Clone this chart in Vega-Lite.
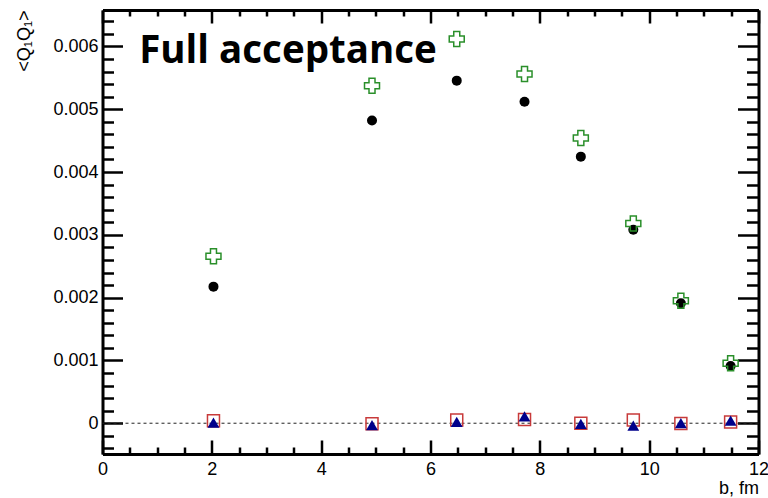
{
  "$schema": "https://vega.github.io/schema/vega-lite/v6.json",
  "width": 656,
  "height": 444,
  "autosize": {"type": "none"},
  "padding": {"left": 102.5, "top": 10, "right": 9.5, "bottom": 44},
  "background": "white",
  "config": {"view": {"stroke": null}, "axis": {"grid": false}},
  "datasets": {
    "zero": [{"value": 0}],
    "black": [
      {"b": 2.03, "value": 0.002175},
      {"b": 4.93, "value": 0.00482},
      {"b": 6.48, "value": 0.005455},
      {"b": 7.72, "value": 0.00512},
      {"b": 8.75, "value": 0.004245},
      {"b": 9.71, "value": 0.00308},
      {"b": 10.58, "value": 0.00191},
      {"b": 11.49, "value": 0.00091}
    ],
    "green": [
      {"b": 2.03, "value": 0.00266},
      {"b": 4.93, "value": 0.005375},
      {"b": 6.48, "value": 0.00612},
      {"b": 7.72, "value": 0.00556},
      {"b": 8.75, "value": 0.00454},
      {"b": 9.71, "value": 0.00318},
      {"b": 10.58, "value": 0.00195},
      {"b": 11.49, "value": 0.000955}
    ],
    "red": [
      {"b": 2.03, "value": 0.00004},
      {"b": 4.93, "value": -0.00001},
      {"b": 6.48, "value": 0.00005},
      {"b": 7.72, "value": 0.00006},
      {"b": 8.75, "value": 0.0},
      {"b": 9.71, "value": 0.00005},
      {"b": 10.58, "value": -0.000005},
      {"b": 11.49, "value": 0.00002}
    ],
    "blue": [
      {"b": 2.03, "value": 0.00001},
      {"b": 4.93, "value": -0.00003},
      {"b": 6.48, "value": 0.00002},
      {"b": 7.72, "value": 0.00011},
      {"b": 8.75, "value": -0.00001},
      {"b": 9.71, "value": -0.00004},
      {"b": 10.58, "value": 0.0},
      {"b": 11.49, "value": 0.00004}
    ]
  },
  "layer": [
    {
      "data": {"name": "zero"},
      "mark": {"type": "rule", "strokeDash": [3, 3], "strokeWidth": 1, "color": "#222222"},
      "encoding": {
        "y": {"field": "value", "type": "quantitative", "scale": {"domain": [-0.00049, 0.00658], "nice": false, "zero": false}, "axis": null}
      }
    },
    {
      "data": {"name": "black"},
      "mark": {"type": "point", "shape": "circle", "filled": true, "color": "black", "size": 100, "opacity": 1},
      "encoding": {
        "x": {
          "field": "b", "type": "quantitative",
          "scale": {"domain": [0, 12], "nice": false, "zero": false},
          "axis": {
            "orient": "bottom",
            "values": [0, 2, 4, 6, 8, 10, 12],
            "tickSize": -14,
            "tickWidth": 2.5,
            "tickColor": "black",
            "domainWidth": 3,
            "domainColor": "black",
            "labelPadding": 20,
            "labelFont": "Liberation Sans",
            "labelFontSize": 18,
            "labelColor": "black",
            "labelFlush": false,
            "labelOverlap": false,
            "format": "d",
            "title": "b, fm",
            "titleFont": "Liberation Sans",
            "titleFontSize": 18,
            "titleFontWeight": "normal",
            "titleColor": "black",
            "titleAnchor": "end",
            "titleAlign": "right",
            "titleBaseline": "alphabetic",
            "titleX": 656,
            "titleY": 39
          }
        },
        "y": {
          "field": "value", "type": "quantitative",
          "scale": {"domain": [-0.00049, 0.00658], "nice": false, "zero": false},
          "axis": {
            "orient": "left",
            "values": [0, 0.001, 0.002, 0.003, 0.004, 0.005, 0.006],
            "tickSize": -20,
            "tickWidth": 2.5,
            "tickColor": "black",
            "domainWidth": 3,
            "domainColor": "black",
            "labelPadding": 24.5,
            "labelFont": "Liberation Sans",
            "labelFontSize": 18,
            "labelColor": "black",
            "labelFlush": false,
            "labelOverlap": false,
            "labelExpr": "datum.value == 0 ? '0' : format(datum.value, '.3f')",
            "title": "<Q₁Q₁>",
            "titleFont": "Liberation Sans",
            "titleFontSize": 18,
            "titleFontWeight": "normal",
            "titleColor": "black",
            "titleAnchor": "end",
            "titleAngle": -90,
            "titleAlign": "right",
            "titleBaseline": "alphabetic",
            "titleX": -73,
            "titleY": 0
          }
        }
      }
    },
    {
      "data": {"name": "green"},
      "mark": {"type": "point", "shape": "cross", "filled": false, "color": "#2a8f2a", "strokeWidth": 1.5, "size": 225, "opacity": 1},
      "encoding": {
        "x": {
          "field": "b", "type": "quantitative",
          "scale": {"domain": [0, 12], "nice": false, "zero": false},
          "axis": {
            "orient": "top",
            "values": [0, 2, 4, 6, 8, 10, 12],
            "tickSize": -13,
            "tickWidth": 2.5,
            "tickColor": "black",
            "domainWidth": 3,
            "domainColor": "black",
            "labels": false,
            "title": null
          }
        },
        "y": {
          "field": "value", "type": "quantitative",
          "scale": {"domain": [-0.00049, 0.00658], "nice": false, "zero": false},
          "axis": {
            "orient": "right",
            "values": [0, 0.001, 0.002, 0.003, 0.004, 0.005, 0.006],
            "tickSize": -21,
            "tickWidth": 2.5,
            "tickColor": "black",
            "domainWidth": 3,
            "domainColor": "black",
            "labels": false,
            "title": null
          }
        }
      }
    },
    {
      "data": {"name": "red"},
      "mark": {"type": "point", "shape": "square", "filled": false, "color": "#c83a3a", "strokeWidth": 1.5, "size": 144, "opacity": 1},
      "encoding": {
        "x": {
          "field": "b", "type": "quantitative",
          "scale": {"domain": [0, 12], "nice": false, "zero": false},
          "axis": {
            "orient": "bottom",
            "values": [0.5, 1, 1.5, 2.5, 3, 3.5, 4.5, 5, 5.5, 6.5, 7, 7.5, 8.5, 9, 9.5, 10.5, 11, 11.5],
            "tickSize": -7,
            "tickWidth": 2.5,
            "tickColor": "black",
            "domain": false,
            "labels": false,
            "title": null
          }
        },
        "y": {
          "field": "value", "type": "quantitative",
          "scale": {"domain": [-0.00049, 0.00658], "nice": false, "zero": false},
          "axis": {
            "orient": "left",
            "values": [-0.0004, -0.0002, 0.0002, 0.0004, 0.0006, 0.0008, 0.0012, 0.0014, 0.0016, 0.0018, 0.0022, 0.0024, 0.0026, 0.0028, 0.0032, 0.0034, 0.0036, 0.0038, 0.0042, 0.0044, 0.0046, 0.0048, 0.0052, 0.0054, 0.0056, 0.0058, 0.0062, 0.0064],
            "tickSize": -11,
            "tickWidth": 2.5,
            "tickColor": "black",
            "domain": false,
            "labels": false,
            "title": null
          }
        }
      }
    },
    {
      "data": {"name": "blue"},
      "mark": {"type": "point", "shape": "triangle-up", "filled": true, "color": "#00008b", "size": 140, "opacity": 1},
      "encoding": {
        "x": {
          "field": "b", "type": "quantitative",
          "scale": {"domain": [0, 12], "nice": false, "zero": false},
          "axis": {
            "orient": "top",
            "values": [0.5, 1, 1.5, 2.5, 3, 3.5, 4.5, 5, 5.5, 6.5, 7, 7.5, 8.5, 9, 9.5, 10.5, 11, 11.5],
            "tickSize": -6,
            "tickWidth": 2.5,
            "tickColor": "black",
            "domain": false,
            "labels": false,
            "title": null
          }
        },
        "y": {
          "field": "value", "type": "quantitative",
          "scale": {"domain": [-0.00049, 0.00658], "nice": false, "zero": false},
          "axis": {
            "orient": "right",
            "values": [-0.0004, -0.0002, 0.0002, 0.0004, 0.0006, 0.0008, 0.0012, 0.0014, 0.0016, 0.0018, 0.0022, 0.0024, 0.0026, 0.0028, 0.0032, 0.0034, 0.0036, 0.0038, 0.0042, 0.0044, 0.0046, 0.0048, 0.0052, 0.0054, 0.0056, 0.0058, 0.0062, 0.0064],
            "tickSize": -12,
            "tickWidth": 2.5,
            "tickColor": "black",
            "domain": false,
            "labels": false,
            "title": null
          }
        }
      }
    },
    {
      "data": {"values": [{}]},
      "mark": {"type": "text", "align": "left", "baseline": "alphabetic", "font": "Open Sans", "fontWeight": "bold", "fontSize": 38.5, "color": "black"},
      "encoding": {
        "x": {"datum": 0.67, "type": "quantitative", "scale": {"domain": [0, 12], "nice": false, "zero": false}, "axis": null},
        "y": {"datum": 0.00573, "type": "quantitative", "scale": {"domain": [-0.00049, 0.00658], "nice": false, "zero": false}, "axis": null},
        "text": {"value": "Full acceptance"}
      }
    }
  ],
  "resolve": {"axis": {"x": "independent", "y": "independent"}}
}
